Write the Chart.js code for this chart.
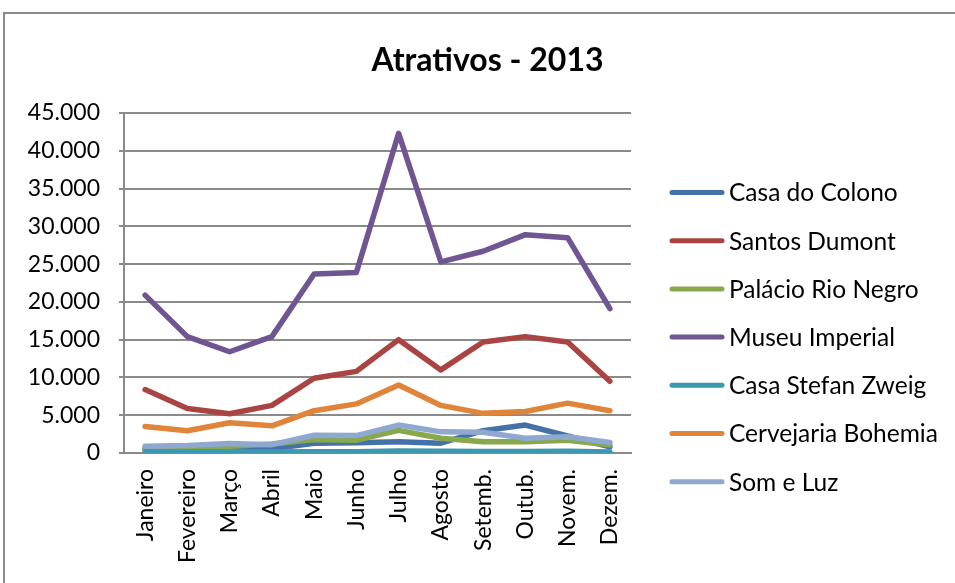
<!DOCTYPE html>
<html>
<head>
<meta charset="utf-8">
<script src="https://cdn.jsdelivr.net/npm/chart.js@4"></script>
<style>
  html, body { margin: 0; padding: 0; background: #fff; }
  #contenedor { width: 955px; height: 583px; }
</style>
</head>
<body>
<div id="contenedor"><canvas id="atrativosChart"></canvas></div>
<script>
    // Datos (visitantes por mes)
    const meses = ['Janeiro', 'Fevereiro', 'Março', 'Abril', 'Maio', 'Junho', 'Julho', 'Agosto', 'Setemb.', 'Outub.', 'Novem.', 'Dezem.'];
    const casaDoColono = [500, 600, 700, 550, 1300, 1350, 1500, 1300, 2950, 3700, 2250, 800];
    const santosDumont = [8400, 5900, 5200, 6300, 9900, 10800, 15000, 11000, 14700, 15400, 14700, 9500];
    const palacioRioNegro = [650, 750, 900, 1200, 1800, 1700, 3000, 1950, 1500, 1500, 1700, 1050];
    const museuImperial = [20900, 15400, 13400, 15400, 23700, 23900, 42300, 25300, 26700, 28900, 28500, 19100];
    const casaStefanZweig = [150, 130, 160, 140, 180, 170, 250, 230, 200, 190, 220, 140];
    const cervejariaBohemia = [3500, 2950, 4000, 3600, 5600, 6500, 9000, 6300, 5250, 5500, 6600, 5600];
    const somELuz = [900, 1000, 1250, 1100, 2350, 2300, 3700, 2800, 2750, 1950, 2150, 1400];

    const series = [
        { nombre: 'Casa do Colono', datos: casaDoColono, color: '#4472a8' },
        { nombre: 'Santos Dumont', datos: santosDumont, color: '#a94442' },
        { nombre: 'Palácio Rio Negro', datos: palacioRioNegro, color: '#88a84a' },
        { nombre: 'Museu Imperial', datos: museuImperial, color: '#6f5592' },
        { nombre: 'Casa Stefan Zweig', datos: casaStefanZweig, color: '#3c98b0' },
        { nombre: 'Cervejaria Bohemia', datos: cervejariaBohemia, color: '#e0843a' },
        { nombre: 'Som e Luz', datos: somELuz, color: '#8ea8d0' }
    ];

    const fuente = 'Lato';
    const gris = '#8a8a8a';

    // Marco del gráfico + leyenda a la derecha
    const marcoYLeyenda = {
        id: 'marcoYLeyenda',
        beforeDraw(chart) {
            const ctx = chart.ctx;
            ctx.save();
            ctx.fillStyle = '#fff';
            ctx.fillRect(0, 0, chart.width, chart.height);
            ctx.strokeStyle = gris;
            ctx.lineWidth = 2;
            ctx.strokeRect(4, 13, 1000, 1000);
            ctx.restore();
        },
        afterDraw(chart) {
            const ctx = chart.ctx;
            ctx.save();
            ctx.font = '24.5px ' + fuente;
            ctx.textBaseline = 'middle';
            ctx.textAlign = 'left';
            chart.data.datasets.forEach((ds, i) => {
                const y = 192.5 + i * 48.2;
                ctx.strokeStyle = ds.borderColor;
                ctx.lineWidth = 5;
                ctx.lineCap = 'round';
                ctx.beginPath();
                ctx.moveTo(672, y);
                ctx.lineTo(722, y);
                ctx.stroke();
                ctx.fillStyle = '#000';
                ctx.fillText(ds.label, 729, y + 1);
            });
            ctx.restore();
        }
    };

    const ctx = document.getElementById('atrativosChart').getContext('2d');
    const myChart = new Chart(ctx, {
        type: 'line',
        data: {
            labels: meses,
            datasets: series.map((s, i) => ({
                label: s.nombre,
                data: s.datos,
                borderColor: s.color,
                backgroundColor: s.color,
                borderWidth: 5.5,
                borderCapStyle: 'round',
                borderJoinStyle: 'round',
                pointRadius: 0,
                tension: 0,
                order: series.length - i // la última serie queda encima
            }))
        },
        options: {
            responsive: true,
            maintainAspectRatio: false,
            animation: false,
            layout: { padding: { left: 20, right: 0, top: 13, bottom: 0 } },
            plugins: {
                legend: { display: false },
                tooltip: { enabled: false },
                title: {
                    display: true,
                    text: 'Atrativos - 2013',
                    color: '#000',
                    font: { family: fuente, size: 32, weight: 'bold', lineHeight: 1.2 },
                    padding: { top: 28, bottom: 33.6 }
                }
            },
            scales: {
                x: {
                    offset: true,
                    grid: { display: false },
                    border: { display: true, color: gris, width: 2 },
                    ticks: {
                        color: '#000',
                        font: { family: fuente, size: 23 },
                        minRotation: 90,
                        maxRotation: 90,
                        autoSkip: false,
                        padding: 8
                    },
                    afterFit(scale) { scale.height = 130; }
                },
                y: {
                    min: 0,
                    max: 45000,
                    grid: { color: gris, lineWidth: 2, tickLength: 5 },
                    border: { display: true, color: gris, width: 2 },
                    ticks: {
                        stepSize: 5000,
                        color: '#000',
                        font: { family: fuente, size: 23 },
                        padding: 19,
                        callback: v => v.toString().replace(/\B(?=(\d{3})+(?!\d))/g, '.')
                    },
                    afterFit(scale) { scale.width = 104; }
                },
                // eje vacío para reservar el espacio de la leyenda
                espacio: {
                    position: 'right',
                    grid: { display: false },
                    border: { display: false },
                    ticks: { display: false },
                    afterFit(scale) { scale.width = 324; }
                }
            }
        },
        plugins: [marcoYLeyenda]
    });
</script>
</body>
</html>
